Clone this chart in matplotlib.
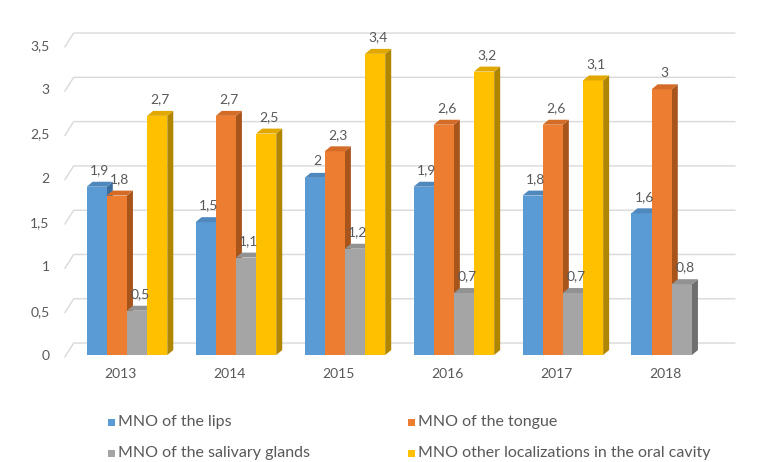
import matplotlib
matplotlib.use("Agg")
import matplotlib.pyplot as plt
import numpy as np
from matplotlib.patches import Polygon, Rectangle

plt.rcParams["font.family"] = ["Lato", "DejaVu Sans"]

years = ["2013", "2014", "2015", "2016", "2017", "2018"]
series = [
    "MNO of the lips",
    "MNO of the tongue",
    "MNO of the salivary glands",
    "MNO other localizations in the oral cavity",
]
lips      = [1.9, 1.5, 2.0, 1.9, 1.8, 1.6]
tongue    = [1.8, 2.7, 2.3, 2.6, 2.6, 3.0]
salivary  = [0.5, 1.1, 1.2, 0.7, 0.7, 0.8]
other_loc = [2.7, 2.5, 3.4, 3.2, 3.1, np.nan]

front = ["#5B9BD5", "#ED7D31", "#A5A5A5", "#FFC000"]
side  = ["#3A6E9E", "#A8551C", "#6F6F6F", "#B08500"]
top   = ["#4F88BD", "#D46C27", "#929292", "#E0A800"]
TXT = "#595959"

W = 0.185          # bar width (category units)
DX, DY = 0.055, 0.056  # 3d depth offsets
BACK_DY = 0.135    # back wall grid offset

FW, FH = 767, 462
fig = plt.figure(figsize=(FW / 100, FH / 100), dpi=100)
ax = fig.add_axes([0.0847, 0.2316, 0.8733, 0.671])
x0, x1 = -0.569, 5.578
ax.set_xlim(x0, x1)
ax.set_ylim(0, 3.5)
for s in ax.spines.values():
    s.set_visible(False)

# back wall gridlines with slanted left edge
for v in np.arange(0, 3.51, 0.5):
    ax.plot([x0, x0 + 0.08, x1], [v - 0.02, v + BACK_DY, v + BACK_DY],
            color="#D9D9D9", lw=1.0, clip_on=False, zorder=1)

ax.set_yticks(np.arange(0, 3.51, 0.5))
ax.set_yticklabels([f"{t:g}".replace(".", ",") for t in np.arange(0, 3.51, 0.5)])
ax.tick_params(axis="y", length=0, pad=11, labelsize=10, labelcolor=TXT)
ax.set_xticks([])

xs = np.arange(len(years))
for k, vals in enumerate([lips, tongue, salivary, other_loc]):
    off = (k - 1.5) * W
    for i, v in enumerate(vals):
        if np.isnan(v):
            continue
        l = xs[i] + off - W / 2
        r = l + W
        z = 2 + i * 0.1 + k * 0.01
        ax.add_patch(Polygon([(r, 0), (r, v), (r + DX, v + DY), (r + DX, DY)],
                             closed=True, fc=side[k], ec="none", zorder=z, clip_on=False))
        ax.add_patch(Polygon([(l, 0), (r, 0), (r, v), (l, v)],
                             closed=True, fc=front[k], ec="none", zorder=z, clip_on=False))
        ax.add_patch(Polygon([(l, v), (r, v), (r + DX, v + DY), (l + DX, v + DY)],
                             closed=True, fc=top[k], ec="none", zorder=z, clip_on=False))
        ax.text(l + W / 2 + DX / 2, v + 0.12, f"{v:g}".replace(".", ","),
                ha="center", va="bottom", fontsize=10, color=TXT, zorder=5)

for i, y in enumerate(years):
    ax.text(xs[i] - 0.06, -0.22, y, ha="center", va="center", fontsize=10,
            color=TXT, zorder=5)

# legend: two columns, two rows (pixel layout)
col_x = [108, 408]
row_y = [422, 453]
for j, name in enumerate(series):
    px, py = col_x[j % 2], row_y[j // 2]
    fig.add_artist(Rectangle((px / FW, (FH - py - 3.5) / FH), 7 / FW, 7 / FH,
                             transform=fig.transFigure, fc=front[j], ec="none"))
    fig.text((px + 10) / FW, (FH - py) / FH, name, ha="left", va="center",
             fontsize=11.5, color=TXT)

fig.savefig("out.png", dpi=100)
